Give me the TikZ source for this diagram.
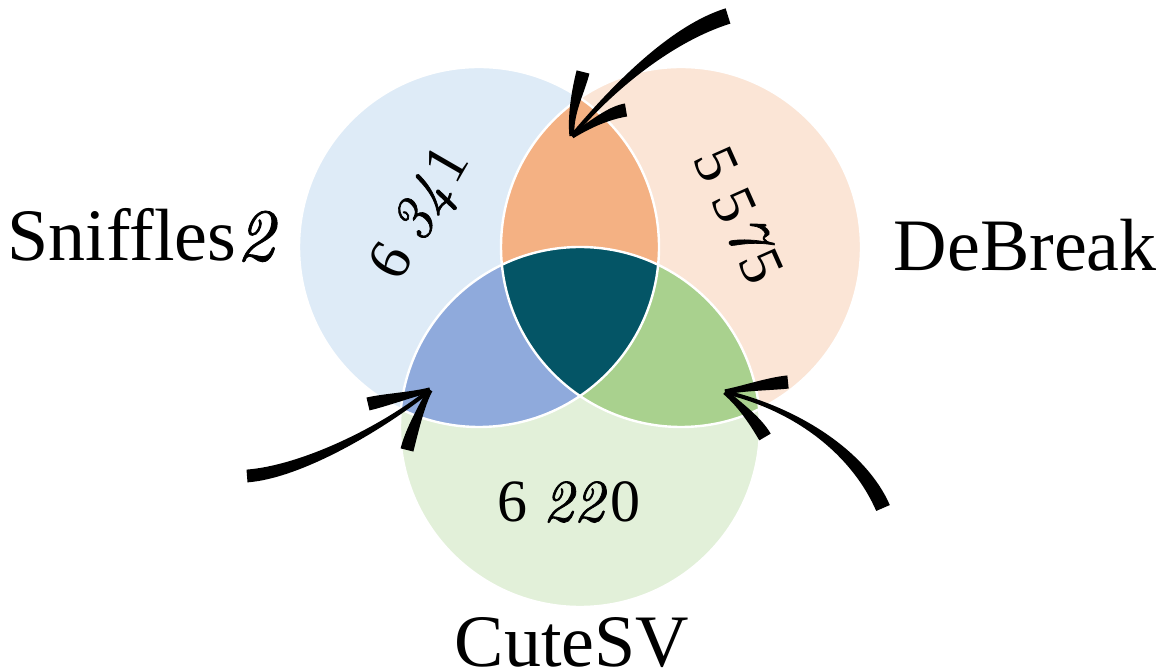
\documentclass[tikz,border=0pt]{standalone}
\usepackage{fontspec}
\newfontfamily\namefont{Liberation Serif}
\newfontfamily\slantdigits{lmroman10-italic.otf}[FakeBold=1.2]
\usetikzlibrary{positioning,calc}

\definecolor{sniffbg}{RGB}{222,235,247}
\definecolor{breakbg}{RGB}{251,229,214}
\definecolor{cutebg}{RGB}{226,240,217}
\definecolor{sniffbreak}{RGB}{244,177,131}
\definecolor{sniffcute}{RGB}{143,170,220}
\definecolor{breakcute}{RGB}{169,209,142}
\definecolor{allthree}{RGB}{4,85,102}

\newcommand\sd[1]{{\slantdigits #1}\kern0.1em}
% tapered brush stroke: from, control 1, control 2, to, half width at from, half width at to
\newcommand\brush[6]{%
  \path ($(#1)!#5!90:(#2)$) coordinate (bA0) ($(#1)!#5!-90:(#2)$) coordinate (bB0)
        ($(#4)!#6!-90:(#3)$) coordinate (bA1) ($(#4)!#6!90:(#3)$) coordinate (bB1);
  \fill (bA0) .. controls ($(#2)+(bA0)-(#1)$) and ($(#3)+(bA1)-(#4)$) .. (bA1)
     -- (bB1) .. controls ($(#3)+(bB1)-(#4)$) and ($(#2)+(bB0)-(#1)$) .. (bB0) -- cycle;}

\begin{document}
\begin{tikzpicture}[x=0.5pt,y=-0.5pt,
    venn/.style={circle,minimum size=180pt,inner sep=0pt},
    setname/.style={font=\namefont\fontsize{37}{44}\selectfont,inner sep=0pt},
    count/.style={font=\namefont\fontsize{30}{36}\selectfont,inner sep=0pt}]
  \useasboundingbox (0,0) rectangle (1165,672);

  \node[venn,fill=sniffbg](Sniffles) at (479,247) {};
  \node[venn,fill=breakbg](DeBreak)  at (681,247) {};
  \node[venn,fill=cutebg] (CuteSV)   at (580,427) {};

  \begin{scope}
    \clip (Sniffles.center) circle (90pt);
    \fill[sniffbreak] (DeBreak.center) circle (90pt);
    \fill[sniffcute]  (CuteSV.center)  circle (90pt);
  \end{scope}
  \begin{scope}
    \clip (DeBreak.center) circle (90pt);
    \fill[breakcute] (CuteSV.center) circle (90pt);
    \clip (Sniffles.center) circle (90pt);
    \fill[allthree]  (CuteSV.center) circle (90pt);
  \end{scope}
  \foreach \s in {Sniffles,DeBreak,CuteSV}
    \draw[white,line width=1.2pt] (\s.center) circle (90pt);

  \node[setname,left=12pt of Sniffles,yshift=6pt](SnifflesName) {Sniffles{\slantdigits 2}};
  \node[setname,right=16pt of DeBreak,yshift=1pt] (DeBreakName)  {DeBreak};
  \node[setname,below=5pt of CuteSV,xshift=-4pt]  (CuteSVName)   {CuteSV};

  \node[count,rotate=60]  (SnifflesOnly) at (423,215) {6 \sd{34}1};
  \node[count,rotate=-66] (DeBreakOnly)  at (739,215) {5 5\sd{7}5};
  \node[count]            (CuteSVOnly)   at (569,502) {6 \sd{22}0};

  % pointers
  \coordinate (TopTail)   at (728,16);
  \coordinate (TopTip)    at (572,136);
  \coordinate (LeftTail)  at (247,476);
  \coordinate (LeftTip)   at (430,390);
  \coordinate (RightTail) at (883,508);
  \coordinate (RightTip)  at (725,392);

  \brush{TopTail}{673,33}{614,86}{TopTip}{4pt}{1pt}
  \brush{TopTip}{570,115}{578,92}{583,72}{1.3pt}{3.3pt}
  \brush{TopTip}{590,125}{608,113}{626,110}{1.3pt}{3.3pt}

  \brush{LeftTail}{300,472}{380,430}{LeftTip}{3.2pt}{1pt}
  \brush{LeftTip}{410,395}{385,400}{368,404}{1.3pt}{3.3pt}
  \brush{LeftTip}{422,405}{412,430}{407,450}{1.3pt}{3.3pt}

  \brush{RightTail}{860,455}{800,410}{RightTip}{3.7pt}{1pt}
  \brush{RightTip}{745,388}{768,384}{788,382}{1.3pt}{3.3pt}
  \brush{RightTip}{740,405}{755,420}{765,437}{1.3pt}{3.3pt}
\end{tikzpicture}
\end{document}
